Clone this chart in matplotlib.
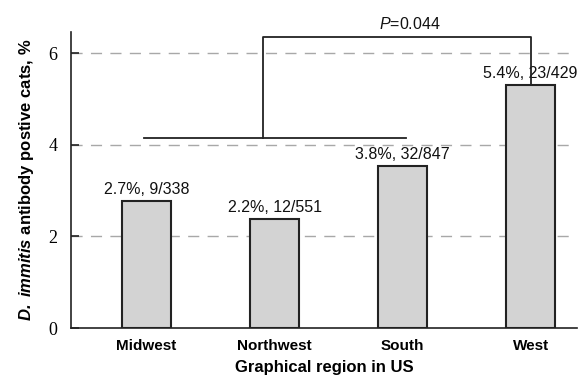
import matplotlib
matplotlib.use("Agg")
import matplotlib.pyplot as plt
import numpy as np

# Data
regions = ["Midwest", "Northwest", "South", "West"]
prevalence = [2.77, 2.37, 3.54, 5.30]
bar_labels = ["2.7%, 9/338", "2.2%, 12/551", "3.8%, 32/847", "5.4%, 23/429"]
y_ticks = [0, 2, 4, 6]
p_text = "$P$=0.044"

# bracket: grouped Midwest-South vs West
group_level = 4.14
bracket_top = 6.34

plt.rcParams["font.family"] = ["Liberation Sans", "DejaVu Sans"]
plt.rcParams["mathtext.fontset"] = "custom"
plt.rcParams["mathtext.it"] = "Liberation Sans:italic"
plt.rcParams["mathtext.bf"] = "Liberation Sans:italic:bold"
plt.rcParams["mathtext.rm"] = "Liberation Sans"

DARK = "#222222"
GRID = "#a8a8a8"

fig = plt.figure(figsize=(5.84, 3.75), dpi=100, facecolor="white")
ax = fig.add_axes([0.1216, 0.1253, 0.866, 0.7894])

x = np.arange(len(regions))
bars = ax.bar(x, prevalence, width=0.38, color="#d3d3d3",
              edgecolor=DARK, linewidth=1.5, zorder=3)

for xi, val, lab in zip(x, prevalence, bar_labels):
    ax.annotate(lab, (xi, val), xytext=(0, 3), textcoords="offset points",
                ha="center", va="bottom", fontsize=11.5, color="#111111",
                zorder=4, annotation_clip=False)

# grid
for yt in y_ticks[1:]:
    ax.axhline(yt, color=GRID, linestyle=(0, (8, 6)), linewidth=1.0, zorder=1)

# significance bracket
ax.plot([x[0] - 0.02, x[2] + 0.03], [group_level, group_level],
        color=DARK, linewidth=1.3, zorder=4)
mid = 0.91
ax.plot([mid, mid, x[3], x[3]],
        [group_level, bracket_top, bracket_top, prevalence[3]],
        color=DARK, linewidth=1.3, zorder=4, clip_on=False)
ax.annotate(p_text, ((mid + x[3]) / 2 + 0.1, bracket_top), xytext=(0, 4),
            textcoords="offset points", ha="center", va="bottom",
            fontsize=11.5, color="#111111", annotation_clip=False)

ax.set_xlim(-0.59, 3.36)
ax.set_ylim(0, 6.46)
ax.set_xticks(x)
ax.set_xticklabels(regions, fontsize=11, fontweight="bold")
ax.set_yticks(y_ticks)
ax.set_yticklabels([str(t) for t in y_ticks], fontsize=13,
                   family=["Liberation Serif"])
ax.tick_params(axis="x", length=0, pad=8)
ax.tick_params(axis="y", direction="in", length=6, width=1.2, color=DARK, pad=10)

ax.set_xlabel("Graphical region in US", fontsize=12, fontweight="bold", labelpad=5)
ax.set_ylabel(r"$\mathbf{D.\ immitis}$ antibody postive cats, %",
              fontsize=12, fontweight="bold", labelpad=9)

ax.spines["top"].set_visible(False)
ax.spines["right"].set_visible(False)
ax.spines["left"].set_color(DARK)
ax.spines["bottom"].set_color(DARK)
ax.spines["left"].set_linewidth(1.2)
ax.spines["bottom"].set_linewidth(1.2)

plt.savefig("out.png", dpi=100, facecolor="white")
plt.close()
